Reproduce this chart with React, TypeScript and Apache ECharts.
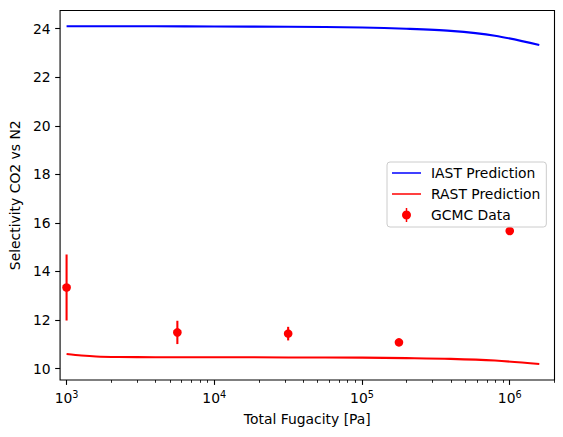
import React, { useEffect, useRef } from "react";
import * as echarts from "echarts";

// ---- data ----
const lineFugacity = [1000, 1259, 1585, 2239, 3981, 10000, 31623, 100000, 199526, 398107, 794328, 1584893];
const iastSelectivity = [24.1, 24.1, 24.1, 24.1, 24.1, 24.09, 24.08, 24.05, 24.0, 23.91, 23.71, 23.33];
const rastSelectivity = [10.6, 10.54, 10.5, 10.48, 10.47, 10.47, 10.46, 10.45, 10.43, 10.4, 10.33, 10.19];

const gcmcFugacity = [1000, 5623, 31623, 177828, 1000000];
const gcmcSelectivity = [13.34, 11.49, 11.44, 11.08, 15.67];
const gcmcError = [1.36, 0.48, 0.28, 0.05, 0.05];

const xMajorExponents = [3, 4, 5, 6];
const yTicks = [10, 12, 14, 16, 18, 20, 22, 24];

const FONT = "DejaVu Sans";
const FS = 13.9;

export default function App() {
  const ref = useRef<HTMLDivElement>(null);

  useEffect(() => {
    if (!ref.current) return;
    const chart = echarts.init(ref.current, undefined, { renderer: "svg" });

    const minorTicks: number[] = [];
    for (let d = 2; d <= 6; d++) {
      for (let m = 2; m <= 9; m++) minorTicks.push(Math.log10(m * Math.pow(10, d)));
    }
    const xMin = 2.956;
    const xMax = 6.303;

    const iastData = lineFugacity.map((f, i) => [Math.log10(f), iastSelectivity[i]]);
    const rastData = lineFugacity.map((f, i) => [Math.log10(f), rastSelectivity[i]]);
    const gcmcData = gcmcFugacity.map((f, i) => [Math.log10(f), gcmcSelectivity[i], gcmcError[i]]);

    const lineIcon = "path://M0,6.25 L29,6.25 L29,7.75 L0,7.75 Z";
    const gcmcIcon =
      "path://M3.75,0 L5.25,0 L5.25,3 L3.75,3 Z M3.75,11 L5.25,11 L5.25,14 L3.75,14 Z M0,7 A4.5,4.5 0 1,1 9,7 A4.5,4.5 0 1,1 0,7 Z";

    chart.setOption({
      animation: false,
      backgroundColor: "#ffffff",
      textStyle: { fontFamily: FONT, fontSize: FS, color: "#000" },
      grid: {
        left: 57.5,
        right: 8.5,
        top: 10.5,
        bottom: 57,
        show: true,
        borderColor: "#000",
        borderWidth: 1.1,
        backgroundColor: "transparent",
      },
      legend: {
        orient: "vertical",
        left: 387,
        top: 162,
        padding: [4, 6, 5, 5],
        itemWidth: 29,
        itemHeight: 14,
        itemGap: 7,
        backgroundColor: "rgba(255,255,255,0.8)",
        borderColor: "#cccccc",
        borderWidth: 1,
        borderRadius: 3,
        textStyle: { fontFamily: FONT, fontSize: FS, color: "#000", lineHeight: 14, padding: [0, 0, 0, 5] },
        data: [
          { name: "IAST Prediction", icon: lineIcon, itemStyle: { color: "#0000ff" } },
          { name: "RAST Prediction", icon: lineIcon, itemStyle: { color: "#ff0000" } },
          { name: "GCMC Data", icon: gcmcIcon, itemStyle: { color: "#ff0000" } },
        ],
      },
      xAxis: [
        {
          type: "value",
          min: xMin,
          max: xMax,
          name: "Total Fugacity [Pa]",
          nameLocation: "middle",
          nameGap: 32,
          nameTextStyle: { fontFamily: FONT, fontSize: FS, color: "#000" },
          axisLine: { show: false },
          splitLine: { show: false },
          axisTick: {
            show: true,
            customValues: xMajorExponents,
            length: 4.9,
            lineStyle: { color: "#000", width: 1.1 },
          },
          axisLabel: {
            customValues: xMajorExponents,
            margin: 9,
            color: "#000",
            formatter: (v: number) => `{b|10}{s|${Math.round(v)}}`,
            rich: {
              b: { fontFamily: FONT, fontSize: FS, color: "#000" },
              s: { fontFamily: FONT, fontSize: 9.7, color: "#000", padding: [0, 0, 8, 0] },
            },
          },
        },
        {
          type: "value",
          min: xMin,
          max: xMax,
          gridIndex: 0,
          position: "bottom",
          axisLine: { show: false },
          splitLine: { show: false },
          axisLabel: { show: false },
          axisTick: {
            show: true,
            customValues: minorTicks,
            length: 2.8,
            lineStyle: { color: "#000", width: 0.85 },
          },
        },
      ],
      yAxis: {
        type: "value",
        min: 9.53,
        max: 24.75,
        name: "Selectivity CO2 vs N2",
        nameLocation: "middle",
        nameGap: 36,
        nameTextStyle: { fontFamily: FONT, fontSize: FS, color: "#000" },
        axisLine: { show: false },
        splitLine: { show: false },
        axisTick: {
          show: true,
          customValues: yTicks,
          length: 4.9,
          lineStyle: { color: "#000", width: 1.1 },
        },
        axisLabel: {
          customValues: yTicks,
          margin: 9.5,
          color: "#000",
          fontFamily: FONT,
          fontSize: FS,
        },
      },
      series: [
        {
          name: "IAST Prediction",
          type: "line",
          data: iastData,
          showSymbol: false,
          smooth: 0.3,
          lineStyle: { color: "#0000ff", width: 2.08 },
          itemStyle: { color: "#0000ff" },
          z: 2,
        },
        {
          name: "RAST Prediction",
          type: "line",
          data: rastData,
          showSymbol: false,
          smooth: 0.3,
          lineStyle: { color: "#ff0000", width: 2.08 },
          itemStyle: { color: "#ff0000" },
          z: 2,
        },
        {
          name: "GCMC Data",
          type: "custom",
          data: gcmcData,
          encode: { x: 0, y: 1 },
          itemStyle: { color: "#ff0000" },
          z: 3,
          renderItem: (params: any, api: any) => {
            const x = api.value(0);
            const y = api.value(1);
            const e = api.value(2);
            const top = api.coord([x, y + e]);
            const bot = api.coord([x, y - e]);
            const c = api.coord([x, y]);
            return {
              type: "group",
              children: [
                {
                  type: "line",
                  shape: { x1: top[0], y1: top[1], x2: bot[0], y2: bot[1] },
                  style: { stroke: "#ff0000", lineWidth: 2.08 },
                },
                {
                  type: "circle",
                  shape: { cx: c[0], cy: c[1], r: 4.3 },
                  style: { fill: "#ff0000" },
                },
              ],
            };
          },
        },
      ],
    });

    return () => chart.dispose();
  }, []);

  return (
    <div
      ref={ref}
      style={{ position: "fixed", left: 0, top: 0, width: 563, height: 437, background: "#fff" }}
    />
  );
}
